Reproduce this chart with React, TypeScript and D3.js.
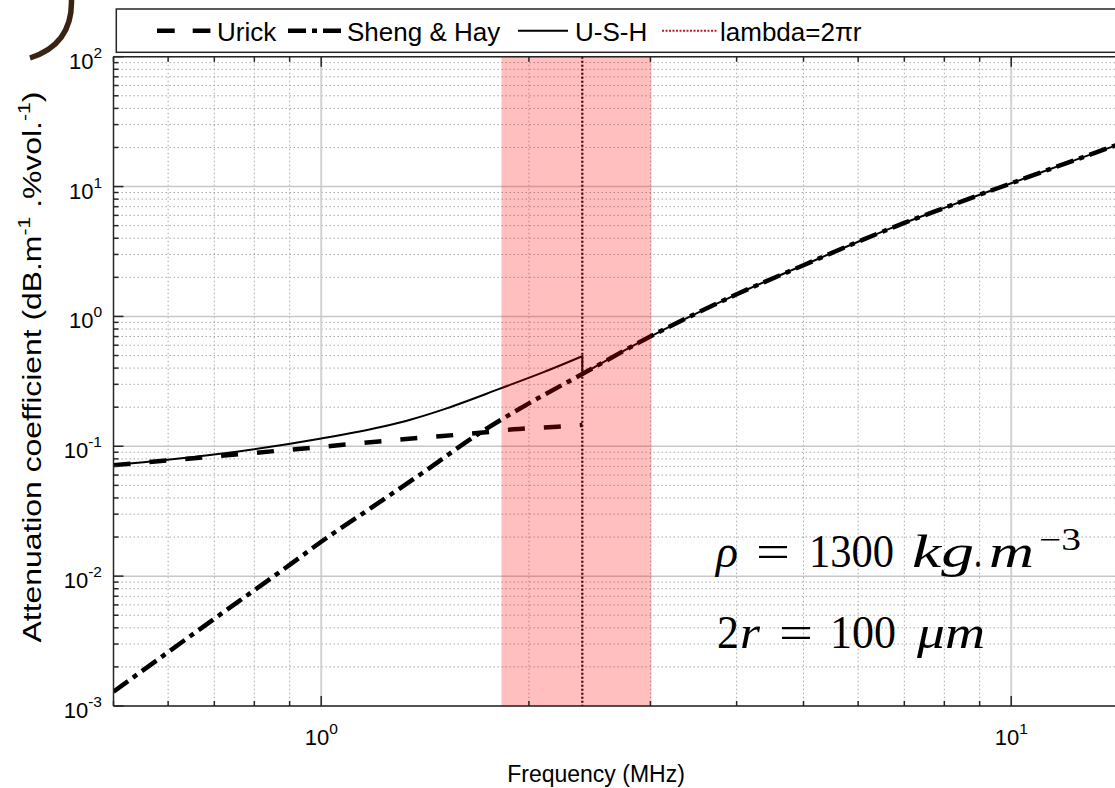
import React from "react";
import * as d3 from "d3";

// valeurs (MHz, dB/m/%vol)
const shengFreq = [0.5, 0.6, 0.7, 0.8, 0.9, 1.0, 1.2, 1.4, 1.68, 2.0, 2.39, 2.9, 4.0, 5.0, 6.0, 7.0, 8.0, 9.0, 10.0, 12.0, 15.0];
const shengAtt = [0.00129, 0.0026, 0.0047, 0.0078, 0.0122, 0.0184, 0.0355, 0.062, 0.122, 0.214, 0.36, 0.637, 1.48, 2.48, 3.76, 5.25, 6.85, 8.65, 10.6, 15.1, 23.1];
const urickFreq = [0.5, 0.69, 1.0, 1.285, 1.5, 1.7, 1.9, 2.2, 2.39];
const urickAtt = [0.0716, 0.083, 0.099, 0.112, 0.12, 0.127, 0.135, 0.1415, 0.146];
const ushFreq = [0.5, 0.69, 1.0, 1.22, 1.35, 1.52, 1.82, 2.1, 2.39];
const ushAtt = [0.0716, 0.0855, 0.115, 0.141, 0.161, 0.196, 0.279, 0.372, 0.494];
const lambdaFreq = 2.39;
const bandFreq = [1.825, 3.01];
const xTickExp = [0, 1];
const yTickExp = [-3, -2, -1, 0, 1, 2];
const legendLabels = ["Urick", "Sheng & Hay", "U-S-H", "lambda=2\u03c0r"];

const W = 1115;
const H = 788;
const left = 113.5;
const top = 56.7;
const bottom = 706;
const decadeX = 690;
const axisColor = "#262626";

const x = d3.scaleLog().domain([0.5, 15]).range([left, left + Math.log10(30) * decadeX]);
const y = d3.scaleLog().domain([1e-3, 1e2]).range([bottom, top]);
const right = x.range()[1];

const line = d3
  .line<[number, number]>()
  .x((d) => x(d[0]))
  .y((d) => y(d[1]))
  .curve(d3.curveMonotoneX);

const zip = (f: number[], v: number[]) => f.map((d, i) => [d, v[i]] as [number, number]);

// ticks secondaires 2..9 de chaque décade
const minorX = d3.range(-1, 2).flatMap((e) => d3.range(2, 10).map((k) => k * 10 ** e)).filter((v) => v >= 0.5 && v <= 15);
const minorY = d3.range(-3, 2).flatMap((e) => d3.range(2, 10).map((k) => k * 10 ** e));

const FONT = "'Liberation Sans', Arial, sans-serif";
const SERIF = "'Liberation Serif', 'DejaVu Serif', serif";

// morceaux du texte d'annotation : [texte, x, largeur, italique]
const rhoParts: [string, number, number, boolean][] = [
  ["ρ", 716, 22, true],
  ["=", 756, 34, false],
  ["1300", 809, 85, false],
  ["kg", 912, 62, true],
  [".", 974, 8, false],
  ["m", 989, 45, true],
];
const radiusParts: [string, number, number, boolean][] = [
  ["2", 717, 22, false],
  ["r", 740, 20, true],
  ["=", 779, 34, false],
  ["100", 830, 66, false],
  ["μm", 917, 68, true],
];

function Chunk({ t, px, py, w, it, size }: { t: string; px: number; py: number; w: number; it: boolean; size: number }) {
  return (
    <text x={px} y={py} fontSize={size} fontStyle={it ? "italic" : "normal"} textLength={w} lengthAdjust="spacingAndGlyphs">
      {t}
    </text>
  );
}

export default function App() {
  const sheng = zip(shengFreq, shengAtt);
  const urick = zip(urickFreq, urickAtt);
  const ushLow = zip(ushFreq, ushAtt);
  const ushHigh = sheng.filter((d) => d[0] >= lambdaFreq);
  const ushPath = (line(ushLow) || "") + (line(ushHigh) || "").replace(/^M/, "L");

  return (
    <svg width={W} height={H} style={{ position: "absolute", left: 0, top: 0, background: "#fff" }} fontFamily={FONT}>
      <defs>
        <clipPath id="plot">
          <rect x={left} y={top} width={right - left} height={bottom - top} />
        </clipPath>
      </defs>
      <rect width={W} height={H} fill="#fff" />

      {/* grille */}
      <g>
        {minorX.map((v) => (
          <line key={"gx" + v} x1={x(v)} x2={x(v)} y1={top} y2={bottom} stroke="#a8a8a8" strokeWidth={1} strokeDasharray="1.5 2.5" />
        ))}
        {minorY.map((v) => (
          <line key={"gy" + v} x1={left} x2={right} y1={y(v)} y2={y(v)} stroke="#a8a8a8" strokeWidth={1} strokeDasharray="1.5 2.5" />
        ))}
        {xTickExp.map((e) => (
          <line key={"GX" + e} x1={x(10 ** e)} x2={x(10 ** e)} y1={top} y2={bottom} stroke="#d2d2d2" strokeWidth={2} />
        ))}
        {yTickExp.map((e) => (
          <line key={"GY" + e} x1={left} x2={right} y1={y(10 ** e)} y2={y(10 ** e)} stroke="#c8c8c8" strokeWidth={1.5} />
        ))}
      </g>

      {/* courbes */}
      <g clipPath="url(#plot)" fill="none">
        <path d={line(sheng) || ""} stroke="#000" strokeWidth={4.5} strokeDasharray="18 6 5 6" />
        <path d={line(urick) || ""} stroke="#000" strokeWidth={4.5} strokeDasharray="17 19" />
        <path d={ushPath} stroke="#000" strokeWidth={2} />
        <rect x={x(bandFreq[0])} y={top} width={x(bandFreq[1]) - x(bandFreq[0])} height={bottom - top} fill="rgba(255,0,0,0.25)" />
        <line x1={x(lambdaFreq)} x2={x(lambdaFreq)} y1={top} y2={bottom} stroke="#4a0000" strokeWidth={2.2} strokeDasharray="2 2" />
      </g>

      {/* axes */}
      <g stroke={axisColor} strokeWidth={1.5}>
        <line x1={left} x2={right} y1={bottom} y2={bottom} />
        <line x1={left} x2={right} y1={top} y2={top} />
        <line x1={left} x2={left} y1={top} y2={bottom} />
        {minorX.map((v) => (
          <g key={"tx" + v}>
            <line x1={x(v)} x2={x(v)} y1={bottom} y2={bottom - 5} />
            <line x1={x(v)} x2={x(v)} y1={top} y2={top + 5} />
          </g>
        ))}
        {xTickExp.map((e) => (
          <g key={"TX" + e}>
            <line x1={x(10 ** e)} x2={x(10 ** e)} y1={bottom} y2={bottom - 10} />
            <line x1={x(10 ** e)} x2={x(10 ** e)} y1={top} y2={top + 10} />
          </g>
        ))}
        {minorY.map((v) => (
          <line key={"ty" + v} x1={left} x2={left + 5} y1={y(v)} y2={y(v)} />
        ))}
        {yTickExp.map((e) => (
          <line key={"TY" + e} x1={left} x2={left + 10} y1={y(10 ** e)} y2={y(10 ** e)} />
        ))}
      </g>

      {/* étiquettes des ticks */}
      <g fill="#000" fontSize={22}>
        {xTickExp.map((e) => (
          <text key={"lx" + e} x={x(10 ** e)} y={745} textAnchor="middle">
            10<tspan fontSize={15.5} dy={-11}>{e}</tspan>
          </text>
        ))}
        {yTickExp.map((e) => (
          <text key={"ly" + e} x={102} y={y(10 ** e) + 12} textAnchor="end">
            10<tspan fontSize={15.5} dy={-11}>{e}</tspan>
          </text>
        ))}
      </g>

      {/* titres des axes */}
      <text x={596} y={782} textAnchor="middle" fontSize={23} fill="#000">Frequency (MHz)</text>
      <text transform="translate(41,367) rotate(-90) scale(1.25,1)" textAnchor="middle" fontSize={25.5} fill="#000">
        Attenuation coefficient (dB.m<tspan fontSize={17} dy={-11}>-1</tspan>
        <tspan dy={11}> .%vol.</tspan>
        <tspan fontSize={17} dy={-11}>-1</tspan>
        <tspan dy={11}>)</tspan>
      </text>

      {/* annotations */}
      <g fontFamily={SERIF} fill="#000">
        {rhoParts.map(([t, px, w, it]) => (
          <Chunk key={"r" + px} t={t} px={px} py={566.7} w={w} it={it} size={46} />
        ))}
        <Chunk t="−3" px={1039} py={550} w={42} it={false} size={31} />
        {radiusParts.map(([t, px, w, it]) => (
          <Chunk key={"d" + px} t={t} px={px} py={648.3} w={w} it={it} size={46} />
        ))}
      </g>

      {/* légende */}
      <g>
        <rect x={116.3} y={9} width={1200} height={43.3} fill="#fff" stroke={axisColor} strokeWidth={1.5} />
        <line x1={157} x2={211} y1={30.7} y2={30.7} stroke="#000" strokeWidth={4.5} strokeDasharray="17.7 18" />
        <line x1={288} x2={343} y1={30.7} y2={30.7} stroke="#000" strokeWidth={4.5} strokeDasharray="18 6 5 6" />
        <line x1={518} x2={568} y1={30.7} y2={30.7} stroke="#000" strokeWidth={2} />
        <line x1={662} x2={717} y1={30.7} y2={30.7} stroke="#c0182a" strokeWidth={2} strokeDasharray="2 1.5" />
        <g fontSize={26} fill="#000">
          <text x={217} y={41}>{legendLabels[0]}</text>
          <text x={347} y={41}>{legendLabels[1]}</text>
          <text x={575} y={41}>{legendLabels[2]}</text>
          <text x={720} y={41}>{legendLabels[3]}</text>
        </g>
      </g>

      {/* arc brun en haut à gauche */}
      <path d="M71.5,0 C72,25 62,48 30,58" fill="none" stroke="#3b2314" strokeWidth={5.5} />
    </svg>
  );
}
